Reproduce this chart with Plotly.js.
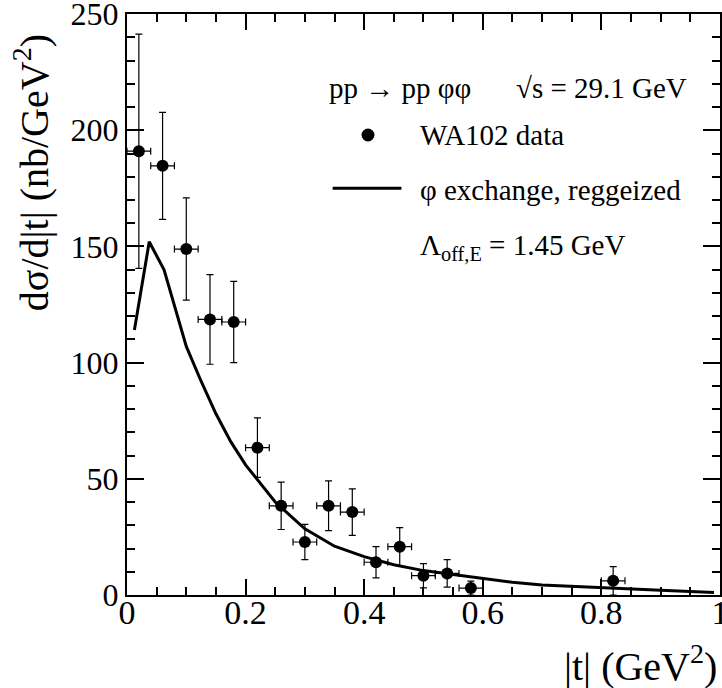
<!DOCTYPE html>
<html>
<head>
<meta charset="utf-8">
<script src="https://cdn.plot.ly/plotly-3.0.1.min.js"></script>
<style>
html,body{margin:0;padding:0;background:#fff;}
#chart text{font-family:'Liberation Serif' !important;}
</style>
</head>
<body>
<div id="chart"></div>
<script>
// WA102 data: |t| bin centres, dsigma/d|t|, errors
const tData   = [0.02, 0.06, 0.10, 0.14, 0.18, 0.22, 0.26, 0.30, 0.34, 0.38, 0.42, 0.46, 0.50, 0.54, 0.58, 0.82];
const sigData = [191, 184.7, 148.9, 118.6, 117.5, 63.4, 38.4, 22.8, 38.4, 35.7, 14.1, 20.8, 8.3, 9.3, 3.0, 6.1];
const sigErr  = [50.4, 23, 22, 19.3, 17.5, 12.8, 10.2, 7.6, 10.7, 10, 6.7, 8.2, 5.2, 5.9, 3, 6.1];
const tErr    = [0.02, 0.02, 0.02, 0.02, 0.02, 0.02, 0.02, 0.02, 0.02, 0.02, 0.02, 0.02, 0.02, 0.02, 0.02, 0.02];

// phi exchange, reggeized model curve
const tModel   = [0.0125, 0.0375, 0.0625, 0.1, 0.125, 0.15, 0.175, 0.2, 0.25, 0.3, 0.35, 0.4, 0.45, 0.5, 0.55, 0.6, 0.65, 0.7, 0.8, 0.9, 0.99];
const sigModel = [114, 152, 140, 107, 92, 78, 66, 56, 40, 28.5, 21, 16.5, 13, 10.5, 8.8, 7.0, 5.5, 4.3, 3.0, 2.0, 1.1];

const xTickVals = [0, 0.2, 0.4, 0.6, 0.8, 1];
const yTickVals = [0, 50, 100, 150, 200, 250];

const FONT = 'Liberation Serif';

const traces = [
  {
    x: tModel, y: sigModel, type: 'scatter', mode: 'lines',
    line: {color: '#000', width: 3}, showlegend: false, hoverinfo: 'skip'
  },
  {
    x: tData, y: sigData, type: 'scatter', mode: 'markers',
    marker: {color: '#000', size: 12, symbol: 'circle'},
    error_y: {type: 'data', array: sigErr, visible: true, color: '#000', thickness: 1.2, width: 3.5},
    error_x: {type: 'data', array: tErr, visible: true, color: '#000', thickness: 1.2, width: 3.5},
    showlegend: false
  }
];

const layout = {
  width: 722, height: 688,
  margin: {l: 127, r: 2, t: 14, b: 93},
  paper_bgcolor: '#fff', plot_bgcolor: '#fff',
  font: {family: FONT, size: 24},
  showlegend: false,
  xaxis: {
    range: [0, 1.0002], tickvals: xTickVals, ticktext: xTickVals.map(String),
    ticks: 'inside', ticklen: 16, tickwidth: 2, tickcolor: '#000',
    minor: {dtick: 0.05, ticks: 'inside', ticklen: 8, tickwidth: 2, tickcolor: '#000', showgrid: false},
    showline: true, linecolor: '#000', linewidth: 2, mirror: 'ticks',
    showgrid: false, zeroline: false, ticklabeloverflow: 'allow', ticklabelstandoff: -14,
    tickfont: {family: FONT, size: 34, color: '#000'}
  },
  yaxis: {
    range: [0, 250.05], tickvals: yTickVals, ticktext: yTickVals.map(String),
    ticks: 'inside', ticklen: 17, tickwidth: 2, tickcolor: '#000',
    minor: {dtick: 10, ticks: 'inside', ticklen: 8, tickwidth: 2, tickcolor: '#000', showgrid: false},
    showline: true, linecolor: '#000', linewidth: 2, mirror: 'ticks',
    showgrid: false, zeroline: false, ticklabeloverflow: 'allow',
    tickfont: {family: FONT, size: 32, color: '#000'}
  },
  shapes: [
    {type: 'line', xref: 'paper', yref: 'paper', x0: 0.3468, x1: 0.4628, y0: 0.700, y1: 0.700,
     line: {color: '#000', width: 3}},
    {type: 'circle', xref: 'paper', yref: 'paper', xsizemode: 'pixel', ysizemode: 'pixel',
     xanchor: 0.4064, yanchor: 0.7917, x0: -6.5, x1: 6.5, y0: -6.5, y1: 6.5,
     fillcolor: '#000', line: {color: '#000', width: 0}}
  ],
  annotations: [
    {text: 'dσ/d|t| (nb/GeV<sup>2</sup>)', xref: 'paper', yref: 'paper', x: -0.161, y: 0.727,
     xanchor: 'center', yanchor: 'middle', textangle: -90, showarrow: false,
     font: {family: FONT, size: 40, color: '#000'}},
    {text: '|t| (GeV<sup>2</sup>)', xref: 'paper', yref: 'paper', x: 0.998, y: -0.118,
     xanchor: 'right', yanchor: 'middle', showarrow: false,
     font: {family: FONT, size: 40, color: '#000'}},
    {text: 'pp → pp φφ', xref: 'paper', yref: 'paper', x: 0.3367, y: 0.8726,
     xanchor: 'left', yanchor: 'middle', showarrow: false,
     font: {family: FONT, size: 29, color: '#000'}},
    {text: '√s = 29.1 GeV', xref: 'paper', yref: 'paper', x: 0.9469, y: 0.8726,
     xanchor: 'right', yanchor: 'middle', showarrow: false,
     font: {family: FONT, size: 29, color: '#000'}},
    {text: 'WA102 data', xref: 'paper', yref: 'paper', x: 0.4908, y: 0.7917,
     xanchor: 'left', yanchor: 'middle', showarrow: false,
     font: {family: FONT, size: 29, color: '#000'}},
    {text: 'φ exchange, reggeized', xref: 'paper', yref: 'paper', x: 0.4903, y: 0.6971,
     xanchor: 'left', yanchor: 'middle', showarrow: false,
     font: {family: FONT, size: 29, color: '#000'}},
    {text: 'Λ<sub>off,E</sub> = 1.45 GeV', xref: 'paper', yref: 'paper', x: 0.4903, y: 0.599,
     xanchor: 'left', yanchor: 'middle', showarrow: false,
     font: {family: FONT, size: 29, color: '#000'}}
  ]
};

Plotly.newPlot('chart', traces, layout, {displayModeBar: false});
</script>
</body>
</html>
